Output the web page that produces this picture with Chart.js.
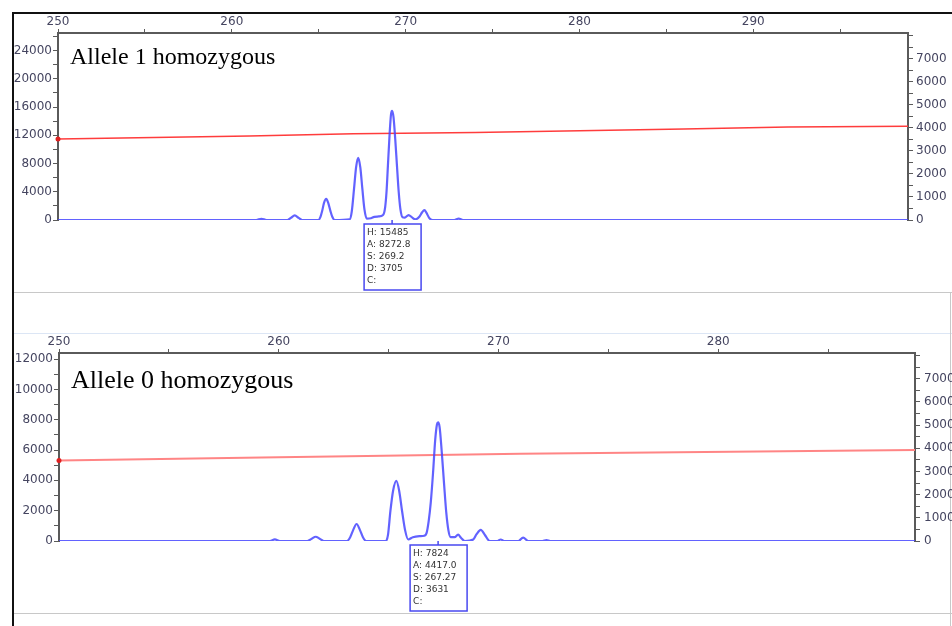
<!DOCTYPE html>
<html>
<head>
<meta charset="utf-8">
<script src="https://cdn.jsdelivr.net/npm/chart.js@4.4.1/dist/chart.umd.min.js"></script>
<style>
  body { margin: 0; background: #fff; width: 952px; height: 626px; overflow: hidden; position: relative; }
  .rule { position: absolute; }
  canvas { position: absolute; }
</style>
</head>
<body>
<div class="rule" style="left:12px;top:12px;width:940px;height:2px;background:#111"></div>
<div class="rule" style="left:12px;top:12px;width:2px;height:614px;background:#111"></div>
<div class="rule" style="left:14px;top:292px;width:938px;height:1px;background:#c8c8c8"></div>
<div class="rule" style="left:14px;top:333px;width:938px;height:1px;background:#dce6f5"></div>
<div class="rule" style="left:14px;top:613px;width:938px;height:1px;background:#c8c8c8"></div>
<div class="rule" style="left:950px;top:293px;width:1px;height:333px;background:#c8c8c8"></div>

<canvas id="topChart" width="938" height="277" style="left:14px;top:15px"></canvas>
<canvas id="bottomChart" width="938" height="276" style="left:14px;top:336px"></canvas>

<script>
// Allele 1 homozygous - trace (size in bp, height in RFU)
const topSize = [250, 261.4, 261.7, 262.0, 263.2, 263.4, 263.62, 263.84, 264.05,
  264.98, 265.1, 265.2, 265.3, 265.43, 265.55, 265.67, 265.78, 265.92,
  266.78, 266.9, 267.03, 267.15, 267.27, 267.39, 267.51, 267.63, 267.76,
  268.0, 268.2, 268.45, 268.7, 268.82, 268.9, 268.98, 269.08, 269.16, 269.22,
  269.3, 269.4, 269.5, 269.6, 269.7, 269.82, 269.95, 270.17, 270.35, 270.55,
  270.8, 270.95, 271.08, 271.2, 271.35, 271.55, 272.8, 273.05, 273.3, 298.9];
const topRfu = [0, 0, 170, 0, 0, 300, 650, 300, 0,
  0, 450, 1300, 2400, 3000, 2400, 1300, 450, 0,
  100, 1200, 4400, 7500, 8800, 7500, 4400, 1500, 200,
  250, 450, 500, 700, 1800, 4000, 7700, 12300, 15000, 15485,
  14600, 11500, 7700, 4000, 1500, 400, 350, 700, 400, 80,
  500, 1100, 1400, 1000, 300, 0, 0, 200, 0, 0];
// size standard curve, right axis
const topStdSize = [250, 261, 267, 274, 280, 286, 292, 298.9];
const topStd = [3510, 3640, 3740, 3790, 3870, 3950, 4030, 4070];

// Allele 0 homozygous
const botSize = [250, 259.6, 259.82, 260.05, 261.3, 261.5, 261.68, 261.86, 262.05,
  263.1, 263.25, 263.38, 263.54, 263.7, 263.83, 263.98,
  264.87, 264.97, 265.08, 265.2, 265.35, 265.48, 265.61, 265.75, 265.89,
  266.1, 266.4, 266.62, 266.72, 266.82, 266.92, 267.02, 267.12, 267.2, 267.25,
  267.32, 267.42, 267.52, 267.62, 267.72, 267.82, 268.0, 268.16, 268.3, 268.47,
  268.85, 269.0, 269.19, 269.38, 269.6, 269.95, 270.1, 270.25, 270.9, 271.12,
  271.35, 272.0, 272.18, 272.35, 288.95];
const botRfu = [0, 0, 110, 0, 0, 150, 280, 150, 0,
  0, 250, 700, 1120, 700, 250, 0,
  0, 400, 1980, 3300, 3960, 3300, 1980, 700, 100,
  250, 320, 350, 500, 1300, 2600, 4500, 6700, 7700, 7824,
  7500, 5800, 3800, 1900, 700, 250, 250, 420, 200, 0,
  100, 450, 730, 400, 0, 0, 100, 0, 0, 220,
  0, 0, 60, 0, 0];
const botStdSize = [250, 260, 264, 271, 288.95];
const botStd = [3470, 3610, 3660, 3760, 3920];

// axis ticks (all tick marks) and the ones that carry a label
const topXTicks = [250, 255, 260, 265, 270, 275, 280, 285, 290, 295];
const botXTicks = [250, 255, 260, 265, 270, 275, 280, 285];
const xLabels = [250, 260, 270, 280, 290];
const topYTicks = [0, 2000, 4000, 6000, 8000, 10000, 12000, 14000, 16000, 18000, 20000, 22000, 24000, 26000];
const topYLabels = [0, 4000, 8000, 12000, 16000, 20000, 24000];
const botYTicks = [0, 1000, 2000, 3000, 4000, 5000, 6000, 7000, 8000, 9000, 10000, 11000, 12000];
const botYLabels = [0, 2000, 4000, 6000, 8000, 10000, 12000];
const rightTicks = [0, 500, 1000, 1500, 2000, 2500, 3000, 3500, 4000, 4500, 5000, 5500, 6000, 6500, 7000, 7500, 8000];
const rightLabels = [0, 1000, 2000, 3000, 4000, 5000, 6000, 7000];

// peak boxes
const topPeak = 269.22;
const topPeakText = ['H: 15485', 'A: 8272.8', 'S: 269.2', 'D: 3705', 'C:'];
const botPeak = 267.25;
const botPeakText = ['H: 7824', 'A: 4417.0', 'S: 267.27', 'D: 3631', 'C:'];

const tickFont = { family: 'DejaVu Sans', size: 12 };
const tickColor = '#454560';
const axisColor = '#5a5a5a';

const panelDecor = {
    id: 'panelDecor',
    afterDraw(chart, args, opts) {
        const ctx = chart.ctx;
        const area = chart.chartArea;
        ctx.save();
        // title
        ctx.fillStyle = '#000';
        ctx.font = opts.titleSize + 'px "Liberation Serif"';
        ctx.textBaseline = 'alphabetic';
        ctx.fillText(opts.title, area.left + 12, area.top + opts.titleBase);

        // peak label box
        const px = chart.scales.x.getPixelForValue(opts.peak);
        const boxTop = area.bottom + 4;
        ctx.strokeStyle = '#4848f0';
        ctx.lineWidth = 1.5;
        ctx.beginPath();
        ctx.moveTo(px, area.bottom);
        ctx.lineTo(px, boxTop);
        ctx.stroke();
        ctx.strokeRect(px - 28, boxTop, 57, 66);
        ctx.fillStyle = '#333';
        ctx.font = '9px "DejaVu Sans"';
        ctx.textBaseline = 'middle';
        opts.lines.forEach((t, i) => ctx.fillText(t, px - 25, boxTop + 8.5 + i * 12));
        ctx.restore();
    }
};

function axis(position, min, max, tickList, labelList, size, tickLen, pad) {
    const horizontal = position === 'top';
    return {
        type: 'linear', position: position, min: min, max: max,
        afterBuildTicks: s => { s.ticks = tickList.map(v => ({ value: v })); },
        afterFit: s => { if (horizontal) s.height = size; else s.width = size; },
        ticks: {
            autoSkip: false, maxRotation: 0, padding: pad,
            font: tickFont, color: tickColor,
            callback: v => labelList.includes(v) ? String(v) : ''
        },
        grid: { drawOnChartArea: false, tickLength: tickLen, color: axisColor },
        border: { display: true, color: axisColor, width: 2 }
    };
}

function makePanel(id, p) {
    const ctx = document.getElementById(id).getContext('2d');
    return new Chart(ctx, {
        type: 'line',
        data: {
            datasets: [{
                data: p.size.map((s, i) => ({ x: s, y: p.rfu[i] })),
                borderColor: 'rgba(70,70,255,0.85)',
                borderWidth: 2.2,
                pointRadius: 0,
                cubicInterpolationMode: 'monotone',
                yAxisID: 'y'
            }, {
                data: p.stdSize.map((s, i) => ({ x: s, y: p.std[i] })),
                borderColor: p.redColor,
                borderWidth: p.redWidth,
                pointRadius: c => c.dataIndex === 0 ? 2.5 : 0,
                pointBackgroundColor: '#e02020',
                pointBorderWidth: 0,
                clip: false,
                yAxisID: 'y2'
            }]
        },
        options: {
            responsive: false,
            devicePixelRatio: 1,
            animation: false,
            layout: { padding: { left: 0, right: 0, top: 0, bottom: p.bottomPad } },
            plugins: {
                legend: { display: false },
                tooltip: { enabled: false },
                panelDecor: { title: p.title, titleSize: p.titleSize, titleBase: p.titleBase, peak: p.peak, lines: p.lines }
            },
            scales: {
                x: axis('top', 250, p.xMax, p.xTicks, xLabels, p.topH, 4, 0),
                y: axis('left', 0, p.yMax, p.yTicks, p.yLabels, p.leftW, 5, 1),
                y2: axis('right', 0, p.y2Max, rightTicks, rightLabels, p.rightW, 5, p.rightPad)
            }
        },
        plugins: [panelDecor]
    });
}

makePanel('topChart', {
    size: topSize, rfu: topRfu, stdSize: topStdSize, std: topStd,
    redColor: '#ff3c3c', redWidth: 1.5,
    title: 'Allele 1 homozygous', titleSize: 24, titleBase: 31,
    peak: topPeak, lines: topPeakText,
    xMax: 298.9, xTicks: topXTicks,
    yMax: 26500, yTicks: topYTicks, yLabels: topYLabels, y2Max: 8110,
    topH: 18, leftW: 44, rightW: 44, rightPad: 3, bottomPad: 72
});

makePanel('bottomChart', {
    size: botSize, rfu: botRfu, stdSize: botStdSize, std: botStd,
    redColor: '#ff8585', redWidth: 2,
    title: 'Allele 0 homozygous', titleSize: 26, titleBase: 35,
    peak: botPeak, lines: botPeakText,
    xMax: 288.95, xTicks: botXTicks,
    yMax: 12400, yTicks: botYTicks, yLabels: botYLabels, y2Max: 8105,
    topH: 17, leftW: 45, rightW: 37, rightPad: 4, bottomPad: 71
});
</script>
</body>
</html>
